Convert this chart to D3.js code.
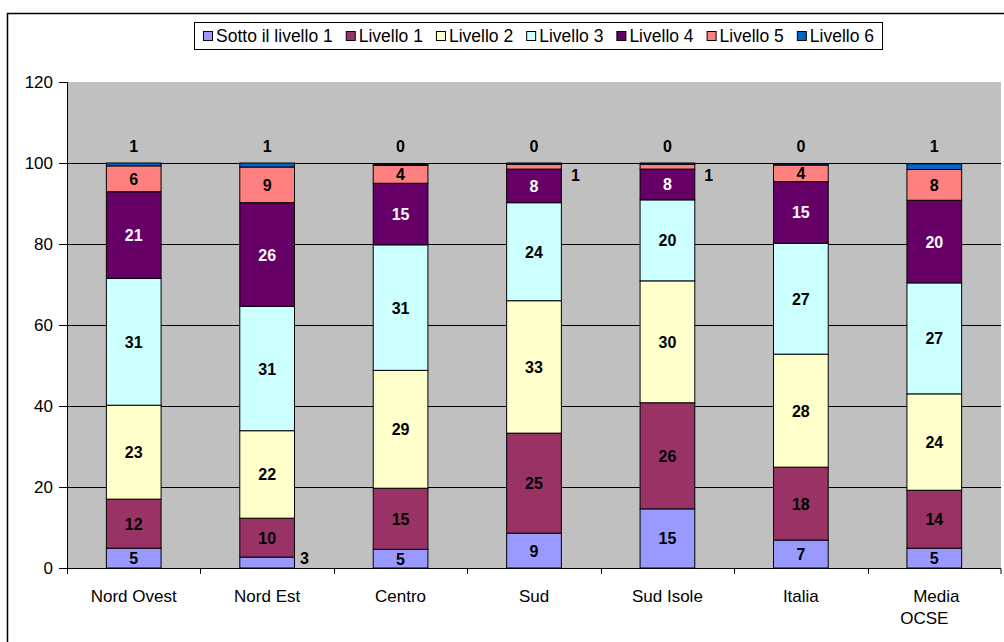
<!DOCTYPE html>
<html>
<head>
<meta charset="utf-8">
<script src="https://cdn.jsdelivr.net/npm/d3@7"></script>
<style>
  body { margin: 0; background: #fff; }
  svg text { font-family: "Liberation Sans", Arial, sans-serif; }
</style>
</head>
<body>
<svg id="chart" width="1004" height="642"></svg>
<script>
var categories = ["Nord Ovest", "Nord Est", "Centro", "Sud", "Sud Isole", "Italia", "Media OCSE"];
var seriesNames = ["Sotto il livello 1", "Livello 1", "Livello 2", "Livello 3", "Livello 4", "Livello 5", "Livello 6"];

var sottoLivello1 = [4.9, 2.7, 4.6, 8.6, 14.6, 6.9, 4.9];
var livello1 = [12.1, 9.6, 15.1, 24.7, 26.2, 18.0, 14.3];
var livello2 = [23.2, 21.6, 29.1, 32.7, 30.1, 27.9, 23.8];
var livello3 = [31.3, 30.7, 31.0, 24.2, 20.0, 27.4, 27.4];
var livello4 = [21.4, 25.6, 15.2, 8.3, 7.6, 15.2, 20.4];
var livello5 = [6.4, 8.8, 4.4, 1.2, 1.2, 4.1, 7.6];
var livello6 = [0.7, 1.0, 0.2, 0.3, 0.3, 0.3, 1.4];

var yTicks = [0, 20, 40, 60, 80, 100, 120];

var colors = ["#9999FF", "#993366", "#FFFFCC", "#CCFFFF", "#660066", "#FF8080", "#0066CC"];

var svg = d3.select("#chart");
var margin = {top: 82, right: 3, bottom: 74, left: 67};
var width = 1004 - margin.left - margin.right;
var height = 642 - margin.top - margin.bottom;

// outer frame
svg.append("rect")
  .attr("x", 7.5).attr("y", 13.5)
  .attr("width", 1000).attr("height", 640)
  .attr("fill", "none").attr("stroke", "#000").attr("stroke-width", 1.5);

var rows = categories.map(function(c, i){
  return {
    cat: c,
    "Sotto il livello 1": sottoLivello1[i],
    "Livello 1": livello1[i],
    "Livello 2": livello2[i],
    "Livello 3": livello3[i],
    "Livello 4": livello4[i],
    "Livello 5": livello5[i],
    "Livello 6": livello6[i]
  };
});
var stacked = d3.stack().keys(seriesNames)(rows);

var x = d3.scaleBand().domain(categories).range([0, width]);
var y = d3.scaleLinear().domain([0, 120]).range([height, 0]);
var barW = x.bandwidth() * 0.41;

var g = svg.append("g").attr("transform", "translate(" + margin.left + "," + margin.top + ")");

g.append("rect")
  .attr("width", width).attr("height", height)
  .attr("fill", "#C0C0C0");

// gridlines
g.selectAll(".grid").data(yTicks.filter(function(d){ return d > 0 && d < 120; }))
  .enter().append("line")
  .attr("x1", 0).attr("x2", width)
  .attr("y1", function(d){ return Math.round(y(d)) + 0.5; })
  .attr("y2", function(d){ return Math.round(y(d)) + 0.5; })
  .attr("stroke", "#000");

// y axis
var yAxis = g.append("g")
  .call(d3.axisLeft(y).tickValues(yTicks).tickSize(8).tickPadding(6));
yAxis.selectAll("text").attr("font-size", 17).attr("fill", "#000");
yAxis.select(".domain").attr("stroke", "#000");

// x axis
var xAxis = g.append("g")
  .attr("transform", "translate(0," + height + ")")
  .call(d3.axisBottom(x).tickSize(0).tickFormat(""));
xAxis.select(".domain").attr("d", "M0.5,6V0.5H" + width + "V6").attr("stroke", "#000");
xAxis.selectAll(".sep").data(d3.range(1, categories.length))
  .enter().append("line")
  .attr("x1", function(i){ return Math.round(x(categories[i])) + 0.5; })
  .attr("x2", function(i){ return Math.round(x(categories[i])) + 0.5; })
  .attr("y1", 0).attr("y2", 6).attr("stroke", "#000");

var catLabels = g.selectAll(".catlabel").data(categories)
  .enter().append("text")
  .attr("text-anchor", "middle")
  .attr("font-size", 17)
  .attr("x", function(d){ return x(d) + x.bandwidth() / 2; })
  .attr("y", height + 34);
catLabels.each(function(d){
  var parts = d === "Media OCSE" ? ["Media", "OCSE"] : [d];
  var t = d3.select(this);
  parts.forEach(function(p, i){
    t.append("tspan")
      .attr("x", x(d) + x.bandwidth() / 2 + (parts.length > 1 ? (i === 0 ? 2 : -10) : 0))
      .attr("dy", i === 0 ? 0 : 22)
      .text(p);
  });
});

// bars
var layers = g.selectAll(".layer").data(stacked)
  .enter().append("g")
  .attr("fill", function(d, i){ return colors[i]; });

layers.selectAll("rect").data(function(d){ return d; })
  .enter().append("rect")
  .attr("x", function(d){ return x(d.data.cat) + (x.bandwidth() - barW) / 2; })
  .attr("y", function(d){ return y(d[1]); })
  .attr("width", barW)
  .attr("height", function(d){ return y(d[0]) - y(d[1]); })
  .attr("stroke", "#000")
  .attr("stroke-width", 1);

// value labels: Livello 6 above the bar, thin segments beside it
layers.each(function(s, si){
  d3.select(this).selectAll("text").data(s)
    .enter().append("text")
    .attr("font-size", 16)
    .attr("font-weight", "bold")
    .attr("text-anchor", "middle")
    .attr("fill", si === 4 ? "#fff" : "#000")
    .attr("x", function(d){
      var cx = x(d.data.cat) + x.bandwidth() / 2;
      var h = y(d[0]) - y(d[1]);
      if (si < 6 && h < 12) return cx + barW / 2 + (si === 5 ? 14 : 10);
      return cx;
    })
    .attr("y", function(d){
      var h = y(d[0]) - y(d[1]);
      var mid = (y(d[0]) + y(d[1])) / 2 + 6;
      if (si === 6) return y(100) - 11;
      if (h < 12) return mid + (si === 5 ? 8 : -5);
      return mid;
    })
    .text(function(d){ return Math.round(d.data[s.key]); });
});

// legend
var legend = svg.append("g");
var legendBox = legend.append("rect")
  .attr("y", 22.5).attr("height", 27)
  .attr("fill", "#fff").attr("stroke", "#000");
var lx = 203;
seriesNames.forEach(function(name, i){
  legend.append("rect")
    .attr("x", lx + 0.5).attr("y", 31.5)
    .attr("width", 9).attr("height", 9)
    .attr("fill", colors[i]).attr("stroke", "#000");
  var t = legend.append("text")
    .attr("x", lx + 13).attr("y", 42)
    .attr("font-size", 17.5)
    .text(name);
  lx += 13 + t.node().getComputedTextLength() + 13;
});
legendBox.attr("x", 194.5).attr("width", lx - 194 - 5);
</script>
</body>
</html>
